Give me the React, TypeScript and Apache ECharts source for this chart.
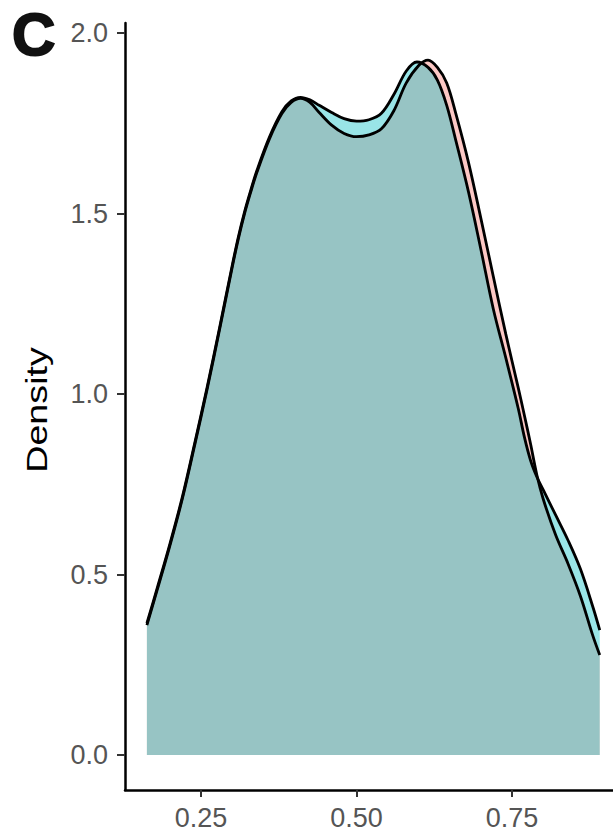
import React, { useEffect, useRef } from "react";
import * as echarts from "echarts";

const pinkX = [0.163, 0.18, 0.2, 0.22, 0.24, 0.26, 0.28, 0.3, 0.31, 0.32, 0.33, 0.34, 0.36, 0.38, 0.395, 0.41, 0.425, 0.44, 0.46, 0.48, 0.5, 0.52, 0.54, 0.56, 0.58, 0.6, 0.615, 0.63, 0.645, 0.66, 0.68, 0.7, 0.72, 0.74, 0.76, 0.77, 0.78, 0.79, 0.8, 0.82, 0.84, 0.86, 0.88, 0.891];
const pinkDensity = [0.36, 0.46, 0.58, 0.71, 0.86, 1.015, 1.18, 1.35, 1.43, 1.5, 1.56, 1.615, 1.707, 1.777, 1.808, 1.819, 1.808, 1.78, 1.745, 1.722, 1.713, 1.718, 1.735, 1.785, 1.862, 1.91, 1.925, 1.905, 1.862, 1.775, 1.642, 1.486, 1.325, 1.166, 1.017, 0.94, 0.86, 0.775, 0.71, 0.61, 0.53, 0.44, 0.33, 0.277];
const tealX = [0.163, 0.18, 0.2, 0.22, 0.24, 0.26, 0.28, 0.3, 0.31, 0.32, 0.33, 0.34, 0.36, 0.38, 0.395, 0.41, 0.425, 0.44, 0.46, 0.48, 0.5, 0.52, 0.54, 0.56, 0.58, 0.597, 0.615, 0.63, 0.645, 0.66, 0.68, 0.7, 0.72, 0.74, 0.76, 0.77, 0.78, 0.79, 0.8, 0.82, 0.84, 0.86, 0.88, 0.891];
const tealDensity = [0.365, 0.465, 0.585, 0.715, 0.865, 1.02, 1.185, 1.355, 1.435, 1.505, 1.565, 1.62, 1.712, 1.782, 1.812, 1.822, 1.815, 1.8, 1.78, 1.763, 1.756, 1.76, 1.778, 1.83, 1.895, 1.92, 1.905, 1.87, 1.8, 1.7, 1.56, 1.4, 1.235, 1.1, 0.96, 0.88, 0.815, 0.77, 0.735, 0.665, 0.595, 0.515, 0.41, 0.346];
const xTicks = [0.25, 0.5, 0.75];
const yTicks = [0, 0.5, 1, 1.5, 2];
const panelLabel = "C";
const yTitle = "Density";

export default function App() {
  const ref = useRef<HTMLDivElement>(null);
  useEffect(() => {
    if (!ref.current) return;
    const chart = echarts.init(ref.current, null, { renderer: "svg" });
    const pinkData = pinkX.map((x, i) => [x, pinkDensity[i]]);
    const tealData = tealX.map((x, i) => [x, tealDensity[i]]);
    const font = "'Liberation Sans', Arial, Helvetica, sans-serif";
    chart.setOption({
      animation: false,
      backgroundColor: "#ffffff",
      grid: { left: 125, top: 23, width: 499, height: 767, containLabel: false },
      xAxis: {
        type: "value",
        min: 0.1278,
        max: 0.93,
        splitLine: { show: false },
        axisLine: { show: true, onZero: false, lineStyle: { color: "#000", width: 2.5 } },
        axisTick: { show: true, length: 7, customValues: xTicks, lineStyle: { color: "#333", width: 2 } },
        axisLabel: {
          customValues: xTicks,
          margin: 14,
          fontSize: 27,
          color: "#555",
          fontFamily: font,
          formatter: (v: number) => v.toFixed(2),
        },
      },
      yAxis: {
        type: "value",
        min: -0.097,
        max: 2.028,
        splitLine: { show: false },
        axisLine: { show: true, onZero: false, lineStyle: { color: "#000", width: 2.5 } },
        axisTick: { show: true, length: 8, customValues: yTicks, lineStyle: { color: "#333", width: 2 } },
        axisLabel: {
          customValues: yTicks,
          margin: 17,
          fontSize: 27,
          color: "#555",
          fontFamily: font,
          formatter: (v: number) => v.toFixed(1),
        },
      },
      graphic: [
        {
          type: "text",
          x: 12,
          y: 34,
          style: {
            text: panelLabel,
            fontSize: 60,
            fontWeight: 900,
            fontFamily: font,
            fill: "#111",
            stroke: "#111",
            lineWidth: 2,
            align: "left",
            verticalAlign: "middle",
          },
        },
        {
          type: "text",
          x: 37,
          y: 410,
          rotation: Math.PI / 2,
          scaleX: 1.3,
          style: {
            text: yTitle,
            fontSize: 29,
            fontFamily: font,
            fill: "#000",
            align: "center",
            verticalAlign: "middle",
          },
        },
      ],
      series: [
        {
          type: "line",
          data: pinkData,
          smooth: 0.35,
          symbol: "none",
          lineStyle: { color: "#000", width: 2.8 },
          areaStyle: { color: "rgba(248,118,109,0.4)", opacity: 1, origin: 0 },
        },
        {
          type: "line",
          data: tealData,
          smooth: 0.35,
          symbol: "none",
          lineStyle: { color: "#000", width: 2.8 },
          areaStyle: { color: "rgba(0,191,196,0.4)", opacity: 1, origin: 0 },
        },
      ],
    });
    return () => chart.dispose();
  }, []);
  return (
    <div
      ref={ref}
      style={{ position: "fixed", left: 0, top: 0, width: 640, height: 836, background: "#fff" }}
    />
  );
}
